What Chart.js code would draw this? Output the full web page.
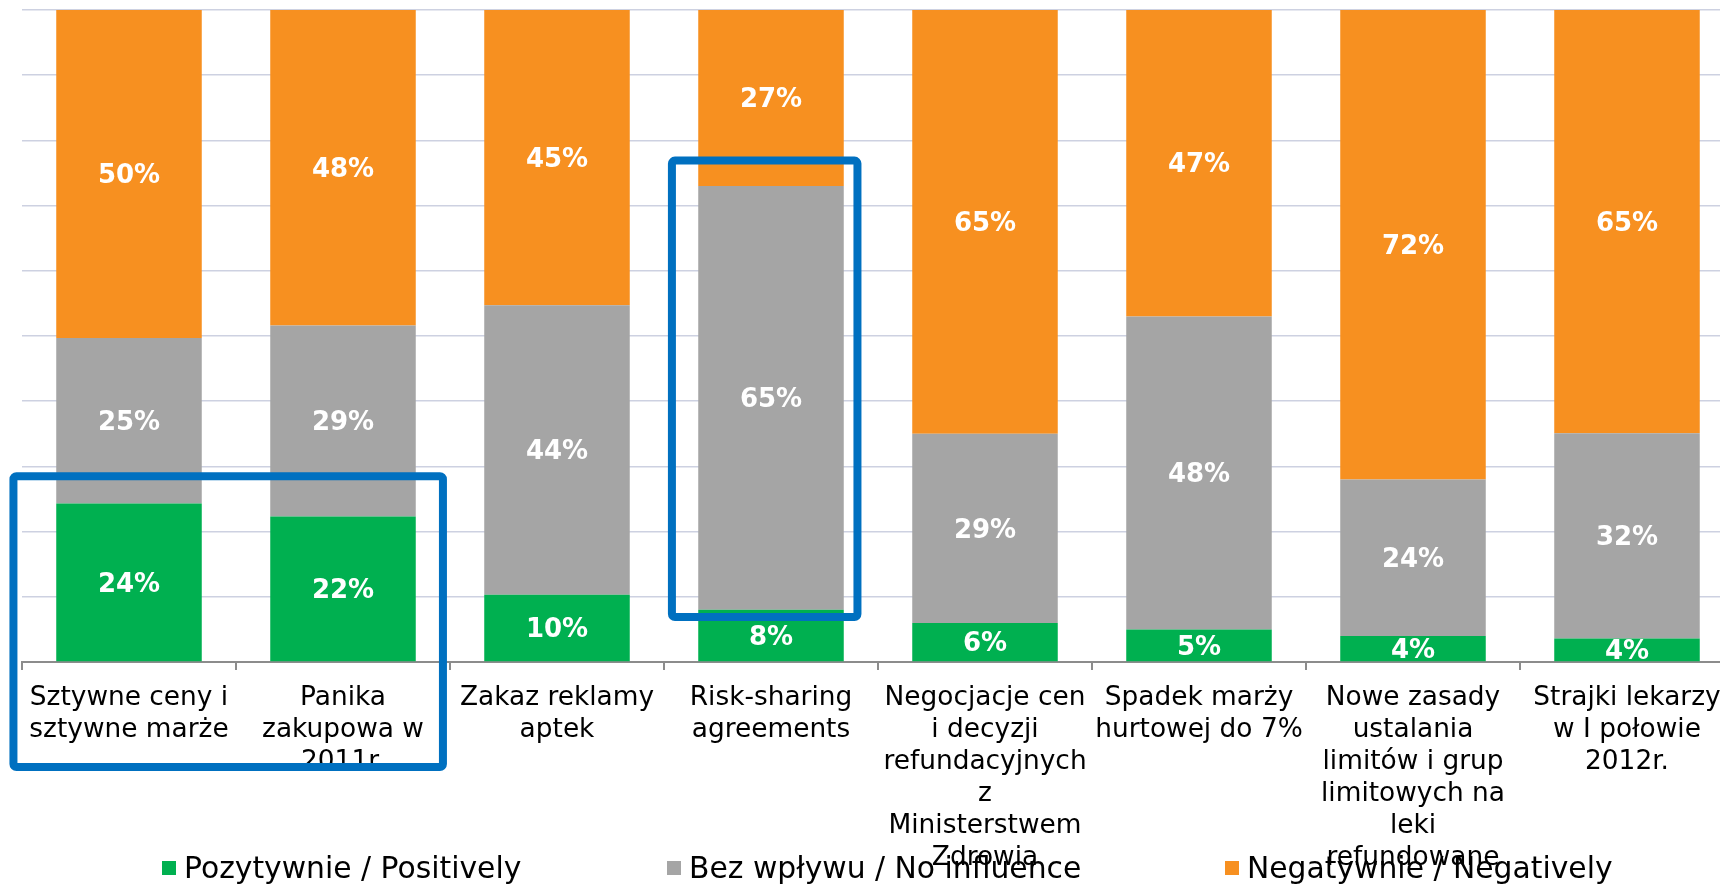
<!DOCTYPE html>
<html>
<head>
<meta charset="utf-8">
<script src="https://cdn.jsdelivr.net/npm/chart.js@4.4.1/dist/chart.umd.min.js"></script>
<style>
  html, body { margin: 0; padding: 0; background: #fff; overflow: hidden; }
  #wrap { position: relative; width: 1720px; height: 884px; overflow: hidden; }
  #chart { position: absolute; left: 0; top: 0; }
  .leg { position: absolute; top: 848px; font-family: "DejaVu Sans", sans-serif; font-size: 29.8px; color: #000; white-space: nowrap; line-height: 40px; }
  .leg i { display: inline-block; width: 14px; height: 14px; margin-right: 8px; vertical-align: 3px; }
</style>
</head>
<body>
<div id="wrap">
  <canvas id="chart" width="1760" height="884"></canvas>
  <div class="leg" style="left:162px"><i style="background:#00B050"></i>Pozytywnie / Positively</div>
  <div class="leg" style="left:667px"><i style="background:#A5A5A5"></i>Bez wpływu / No influence</div>
  <div class="leg" style="left:1225px"><i style="background:#F79020"></i>Negatywnie / Negatively</div>
</div>
<script>
// categories (already broken into lines as on the slide)
var categories = [
  ["Sztywne ceny i", "sztywne marże"],
  ["Panika", "zakupowa w", "2011r."],
  ["Zakaz reklamy", "aptek"],
  ["Risk-sharing", "agreements"],
  ["Negocjacje cen", "i decyzji", "refundacyjnych", "z", "Ministerstwem", "Zdrowia"],
  ["Spadek marży", "hurtowej do 7%"],
  ["Nowe zasady", "ustalania", "limitów i grup", "limitowych na", "leki", "refundowane"],
  ["Strajki lekarzy", "w I połowie", "2012r."]
];

// shares in %
var positive    = [24.3, 22.3, 10.3, 8, 6, 5, 4, 3.6];
var noInfluence = [25.4, 29.3, 44.4, 65, 29, 48, 24, 31.5];
var negative    = [50.3, 48.4, 45.3, 27, 65, 47, 72, 64.9];

var seriesNames = ["Pozytywnie / Positively", "Bez wpływu / No influence", "Negatywnie / Negatively"];

Chart.defaults.font.family = "'DejaVu Sans', sans-serif";
Chart.defaults.color = "#000";

// white % labels in the middle of each segment
var segmentLabels = {
  id: 'segmentLabels',
  afterDatasetsDraw: function(chart) {
    var ctx = chart.ctx;
    ctx.save();
    ctx.fillStyle = '#fff';
    ctx.font = "bold 26px 'DejaVu Sans', sans-serif";
    ctx.textAlign = 'center';
    ctx.textBaseline = 'middle';
    chart.data.datasets.forEach(function(ds, i) {
      var meta = chart.getDatasetMeta(i);
      meta.data.forEach(function(bar, j) {
        var v = ds.data[j];
        ctx.fillText(Math.round(v) + '%', bar.x, (bar.y + bar.base) / 2 + 2.5);
      });
    });
    ctx.restore();
  }
};

// blue highlight frames, given in axis units
var highlightBoxes = {
  id: 'highlightBoxes',
  afterDraw: function(chart, args, opts) {
    var ctx = chart.ctx, xs = chart.scales.x, ys = chart.scales.y;
    ctx.save();
    ctx.strokeStyle = opts.color;
    ctx.lineWidth = opts.width;
    ctx.lineJoin = 'round';
    opts.boxes.forEach(function(b) {
      var l = xs.getPixelForValue(b.x0), r = xs.getPixelForValue(b.x1);
      var t = ys.getPixelForValue(b.y0), btm = ys.getPixelForValue(b.y1);
      ctx.beginPath();
      if (ctx.roundRect) ctx.roundRect(l, t, r - l, btm - t, 3);
      else ctx.rect(l, t, r - l, btm - t);
      ctx.stroke();
    });
    ctx.restore();
  }
};

var chart = new Chart(document.getElementById('chart').getContext('2d'), {
  type: 'bar',
  data: {
    labels: categories,
    datasets: [
      { label: seriesNames[0], data: positive, backgroundColor: '#00B050' },
      { label: seriesNames[1], data: noInfluence, backgroundColor: '#A5A5A5' },
      { label: seriesNames[2], data: negative, backgroundColor: '#F79020' }
    ]
  },
  options: {
    responsive: false,
    animation: false,
    devicePixelRatio: 1,
    layout: { padding: { left: 22, right: 26, top: 10, bottom: 0 } },
    datasets: { bar: { categoryPercentage: 1, barPercentage: 0.68 } },
    scales: {
      x: {
        stacked: true,
        grid: { drawOnChartArea: false, tickLength: 8, color: '#8C8C8C', lineWidth: 2 },
        border: { color: '#8C8C8C', width: 2 },
        ticks: { autoSkip: false, maxRotation: 0, padding: 12, color: '#000', font: { size: 26.4, lineHeight: 1.21 } },
        afterFit: function(scale) { scale.height = 222; }
      },
      y: {
        stacked: true,
        min: 0,
        max: 100,
        grid: { color: '#CDD1E1', lineWidth: 1.5, drawTicks: false },
        border: { display: false },
        ticks: { display: false, stepSize: 10 },
        afterFit: function(scale) { scale.width = 0; }
      }
    },
    plugins: {
      legend: { display: false },
      tooltip: { enabled: false },
      highlightBoxes: {
        color: '#0070C0',
        width: 8,
        boxes: [
          { x0: -0.54, x1: 1.467, y0: 28.5, y1: -16.1 },
          { x0: 2.537, x1: 3.404, y0: 76.9, y1: 6.9 }
        ]
      }
    }
  },
  plugins: [segmentLabels, highlightBoxes]
});
</script>
</body>
</html>
